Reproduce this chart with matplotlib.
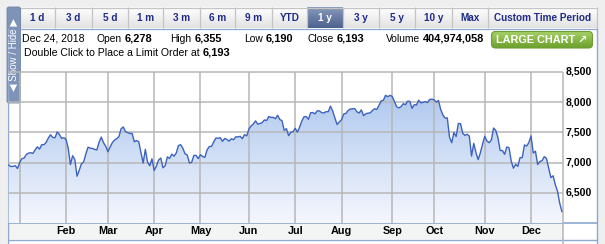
"""One-year index chart widget (Dec 22, 2017 - Dec 24, 2018), quote header + area chart."""

import matplotlib as mpl
mpl.use("Agg")
import matplotlib.pyplot as plt
import numpy as np
import pandas as pd
from matplotlib.colors import LinearSegmentedColormap
from matplotlib.patches import FancyBboxPatch, Polygon, Rectangle

W, H = 605, 244

NAVY = "#1f2b86"
LINE = "#3d63bd"
BORDER = "#8ea8d2"
GRID = "#b6b6b6"

mpl.rcParams.update({
    "font.family": ["Liberation Sans", "DejaVu Sans"],
    "savefig.dpi": 100,
})

# trading calendar (market holidays inside the window)
HOLIDAYS = ["2017-12-25", "2018-01-01", "2018-01-15", "2018-02-19", "2018-03-30",
            "2018-05-28", "2018-07-04", "2018-09-03", "2018-11-22", "2018-12-05"]

# daily closes
close_dec17 = [6960, 6936, 6939, 6950, 6903]
close_jan = [7006, 7065, 7077, 7136, 7157, 7164, 7153, 7212, 7261, 7224, 7298,
             7296, 7336, 7408, 7460, 7416, 7411, 7505, 7466, 7402, 7411]
close_feb = [7385, 7240, 6968, 7115, 7051, 6777, 6874, 6981, 7013, 7143, 7256,
             7239, 7234, 7219, 7211, 7337, 7421, 7330, 7273]
close_mar = [7180, 7257, 7330, 7372, 7397, 7427, 7560, 7588, 7511, 7496, 7481,
             7482, 7344, 7365, 7345, 7167, 6993, 7220, 7009, 6949, 7063]
close_apr = [6871, 6941, 7042, 7076, 6915, 6951, 7095, 7069, 7141, 7107, 7157,
             7282, 7296, 7238, 7146, 7128, 6996, 7004, 7119, 7120, 7066]
close_may = [7131, 7101, 7088, 7210, 7266, 7267, 7340, 7405, 7403, 7411, 7352,
             7399, 7383, 7355, 7394, 7378, 7426, 7425, 7434, 7396, 7462, 7442]
close_jun = [7554, 7606, 7637, 7689, 7635, 7646, 7660, 7704, 7695, 7761, 7746,
             7747, 7725, 7781, 7712, 7692, 7532, 7561, 7445, 7503, 7510]
close_jul = [7567, 7503, 7586, 7688, 7757, 7759, 7716, 7823, 7826, 7805, 7855,
             7854, 7825, 7820, 7841, 7841, 7932, 7852, 7737, 7630, 7672]
close_aug = [7707, 7802, 7812, 7860, 7884, 7889, 7892, 7839, 7819, 7871, 7775,
             7806, 7816, 7821, 7859, 7889, 7878, 7945, 8018, 8030, 8110, 8088, 8110]
close_sep = [8092, 8013, 7922, 7903, 7924, 7972, 7955, 8014, 8010, 7896, 7957,
             7951, 8028, 7987, 7993, 8007, 7991, 8042, 8046]
close_oct = [8037, 7999, 8025, 7879, 7788, 7735, 7738, 7422, 7329, 7497, 7431,
             7645, 7643, 7485, 7449, 7469, 7437, 7108, 7318, 7167, 7050, 7162, 7306]
close_nov = [7434, 7357, 7329, 7375, 7571, 7531, 7407, 7200, 7201, 7137, 7259,
             7247, 7028, 6909, 6973, 6939, 7082, 7082, 7292, 7274, 7331]
close_dec = [7442, 7159, 7189, 6970, 7021, 7032, 7099, 7070, 6911, 6753, 6784,
             6637, 6529, 6333, 6193]

MONTH_LABELS = ["", "Feb", "Mar", "Apr", "May", "Jun", "Jul", "Aug", "Sep", "Oct", "Nov", "Dec"]
Y_TICKS = [6500, 7000, 7500, 8000, 8500]
Y_MIN, Y_MAX = 6000, 8500

TABS = ["1 d", "3 d", "5 d", "1 m", "3 m", "6 m", "9 m", "YTD", "1 y", "3 y", "5 y",
        "10 y", "Max", "Custom Time Period"]
SELECTED = "1 y"
QUOTE_DATE = "Dec 24, 2018"
QUOTE_FIELDS = ["Open", "High", "Low", "Close", "Volume"]
QUOTE_VALUES = ["6,278", "6,355", "6,190", "6,193", "404,974,058"]
LIMIT_TEXT = "Double Click to Place a Limit Order at"
LIMIT_PRICE = "6,193"

# layout (pixels)
TAB_EDGES = [20, 55, 92, 128, 163, 200, 235, 272, 307, 343, 379, 415, 452, 488, 597]
FIELD_X = [96.5, 170.5, 244, 308, 386]
PLOT_L, PLOT_R, PLOT_T, PLOT_B = 8, 563, 71.7, 223.3


def vgrad(ax, x0, x1, y_top, y_bot, c_top, c_bot, z=1):
    cmap = LinearSegmentedColormap.from_list("g", [c_top, c_bot])
    return ax.imshow(np.linspace(0, 1, 128)[:, None], cmap=cmap, aspect="auto",
                     extent=(x0, x1, y_bot, y_top), origin="upper",
                     interpolation="bilinear", zorder=z)


closes = np.array(close_dec17 + close_jan + close_feb + close_mar + close_apr + close_may
                  + close_jun + close_jul + close_aug + close_sep + close_oct + close_nov
                  + close_dec, dtype=float)
days = pd.bdate_range("2017-12-22", "2018-12-24", freq="C", holidays=HOLIDAYS)
assert len(days) == len(closes), (len(days), len(closes))
idx = np.arange(len(days))
firsts = pd.Series(idx, index=days).groupby([days.year, days.month]).first().to_numpy()[1:]

fig = plt.figure(figsize=(W / 100, H / 100), dpi=100)
fig.patch.set_facecolor("#efefef")

# ---- widget chrome in pixel coordinates
bg = fig.add_axes([0, 0, 1, 1])
bg.set_xlim(0, W)
bg.set_ylim(H, 0)
bg.axis("off")

bg.add_patch(Rectangle((7, 7), 590, 237, fc="white", ec="none", zorder=0))

# tab row
vgrad(bg, TAB_EDGES[0], TAB_EDGES[-1], 7, 28, "#ffffff", "#e2e2e2", z=1)
sel = TABS.index(SELECTED)
vgrad(bg, TAB_EDGES[sel], TAB_EDGES[sel + 1], 7, 28, "#8899b9", "#4c628e", z=2)
bg.vlines(TAB_EDGES, 7, 28, color="#c4c4c4", lw=0.9, zorder=3)
bg.hlines(7.5, TAB_EDGES[0], TAB_EDGES[-1], color="#c4c4c4", lw=0.9, zorder=3)
for i, lab in enumerate(TABS):
    cx = (TAB_EDGES[i] + TAB_EDGES[i + 1]) / 2
    bg.text(cx, 17.8, lab, ha="center", va="center", fontsize=7.2, fontweight="bold",
            color="white" if i == sel else NAVY, zorder=4)

# show / hide tab
bg.add_patch(FancyBboxPatch((7, 7), 13.5, 96, boxstyle="round,pad=0,rounding_size=2",
                            fc="#7f93b6", ec="#6f83a8", lw=0.6, zorder=3))
bg.text(13.9, 55, "◀ Show / Hide ▶", rotation=90, ha="center", va="center",
        fontsize=7.0, color="white", zorder=4)

# panel borders
bg.vlines(7.5, 28, H, color=BORDER, lw=1.0, zorder=3)
bg.vlines(596.5, 28, H, color=BORDER, lw=1.0, zorder=3)
bg.hlines(28.5, 20, 597, color=BORDER, lw=0.9, zorder=3)

# quote line
bg.text(22, 38.5, QUOTE_DATE, ha="left", va="center", fontsize=7.6, zorder=4)
for x, lab, val in zip(FIELD_X, QUOTE_FIELDS, QUOTE_VALUES):
    t = bg.text(x, 38.5, lab, ha="left", va="center", fontsize=7.4, zorder=4)
    bg.annotate(val, xy=(1, 0.5), xycoords=t, xytext=(2.0, 0), textcoords="offset points",
                ha="left", va="center", fontsize=7.9, fontweight="bold", zorder=4)
t = bg.text(24, 52.8, LIMIT_TEXT, ha="left", va="center", fontsize=7.6, zorder=4)
bg.annotate(LIMIT_PRICE, xy=(1, 0.5), xycoords=t, xytext=(2.0, 0), textcoords="offset points",
            ha="left", va="center", fontsize=7.9, fontweight="bold", zorder=4)

# large chart button
btn = FancyBboxPatch((491.5, 31.5), 101, 16.5, boxstyle="round,pad=0,rounding_size=4",
                     fc="none", ec="#6e9d35", lw=0.8, zorder=5)
bg.add_patch(btn)
g = vgrad(bg, 491, 593, 31.5, 48, "#a8d268", "#6c9f2c", z=4)
g.set_clip_path(btn)
bg.text(542, 40, "LARGE CHART ↗", ha="center", va="center", fontsize=7.8,
        fontweight="bold", color="white", zorder=6)

# x label strip
bg.add_patch(Rectangle((PLOT_L, PLOT_B), PLOT_R - PLOT_L, 239 - PLOT_B, fc="#f3f5f5",
                       ec="none", zorder=1))
bg.hlines(PLOT_B, 7.5, 597, color=BORDER, lw=1.2, zorder=3)
bg.hlines(239.5, 7.5, 597, color=BORDER, lw=1.0, zorder=3)
bg.vlines(PLOT_R, PLOT_T, H, color=GRID, lw=1.1, zorder=3)

bg.set_xlim(0, W)
bg.set_ylim(H, 0)

# ---- chart
ax = fig.add_axes([PLOT_L / W, 1 - PLOT_B / H, (PLOT_R - PLOT_L) / W, (PLOT_B - PLOT_T) / H])
ax.patch.set_alpha(0)
slope = (561.9 - 8.7) / (len(idx) - 1)
xmin = -(8.7 - PLOT_L) / slope
xmax = (PLOT_R - PLOT_L) / slope + xmin
ax.set_xlim(xmin, xmax)
ax.set_ylim(Y_MIN, Y_MAX)
for s in ax.spines.values():
    s.set_visible(False)
ax.set_xticks([])
ax.set_yticks([])

verts = [(idx[0], Y_MIN)] + list(zip(idx, closes)) + [(idx[-1], Y_MIN)]
poly = Polygon(verts, closed=True, fc="none", ec="none")
ax.add_patch(poly)
fill = vgrad(ax, xmin, xmax, Y_MAX, Y_MIN, "#a3c0ec", "#f5f7fe", z=2)
fill.set_clip_path(poly)

ax.hlines(Y_TICKS, xmin, xmax, color=GRID, lw=1.1, zorder=3, clip_on=False)
ax.vlines(idx[firsts], Y_MIN, Y_MAX, color=GRID, lw=1.1, zorder=3)
ax.plot(idx, closes, color=LINE, lw=1.0, zorder=4)

xlab_y = -(231.5 - PLOT_B) / (PLOT_B - PLOT_T)
for pos, lab in zip(idx[firsts], MONTH_LABELS):
    ax.text(pos, xlab_y, lab, transform=ax.get_xaxis_transform(), ha="center", va="center",
            fontsize=7.8, fontweight="bold", clip_on=False)
ylab_x = 1 + 2.7 / (PLOT_R - PLOT_L)
for v in Y_TICKS:
    ax.text(ylab_x, v, f"{v:,}", transform=ax.get_yaxis_transform(), ha="left", va="center",
            fontsize=7.6, fontweight="bold", clip_on=False)

ax.set_xlim(xmin, xmax)
ax.set_ylim(Y_MIN, Y_MAX)

fig.savefig("out.png", dpi=100, facecolor=fig.get_facecolor())
